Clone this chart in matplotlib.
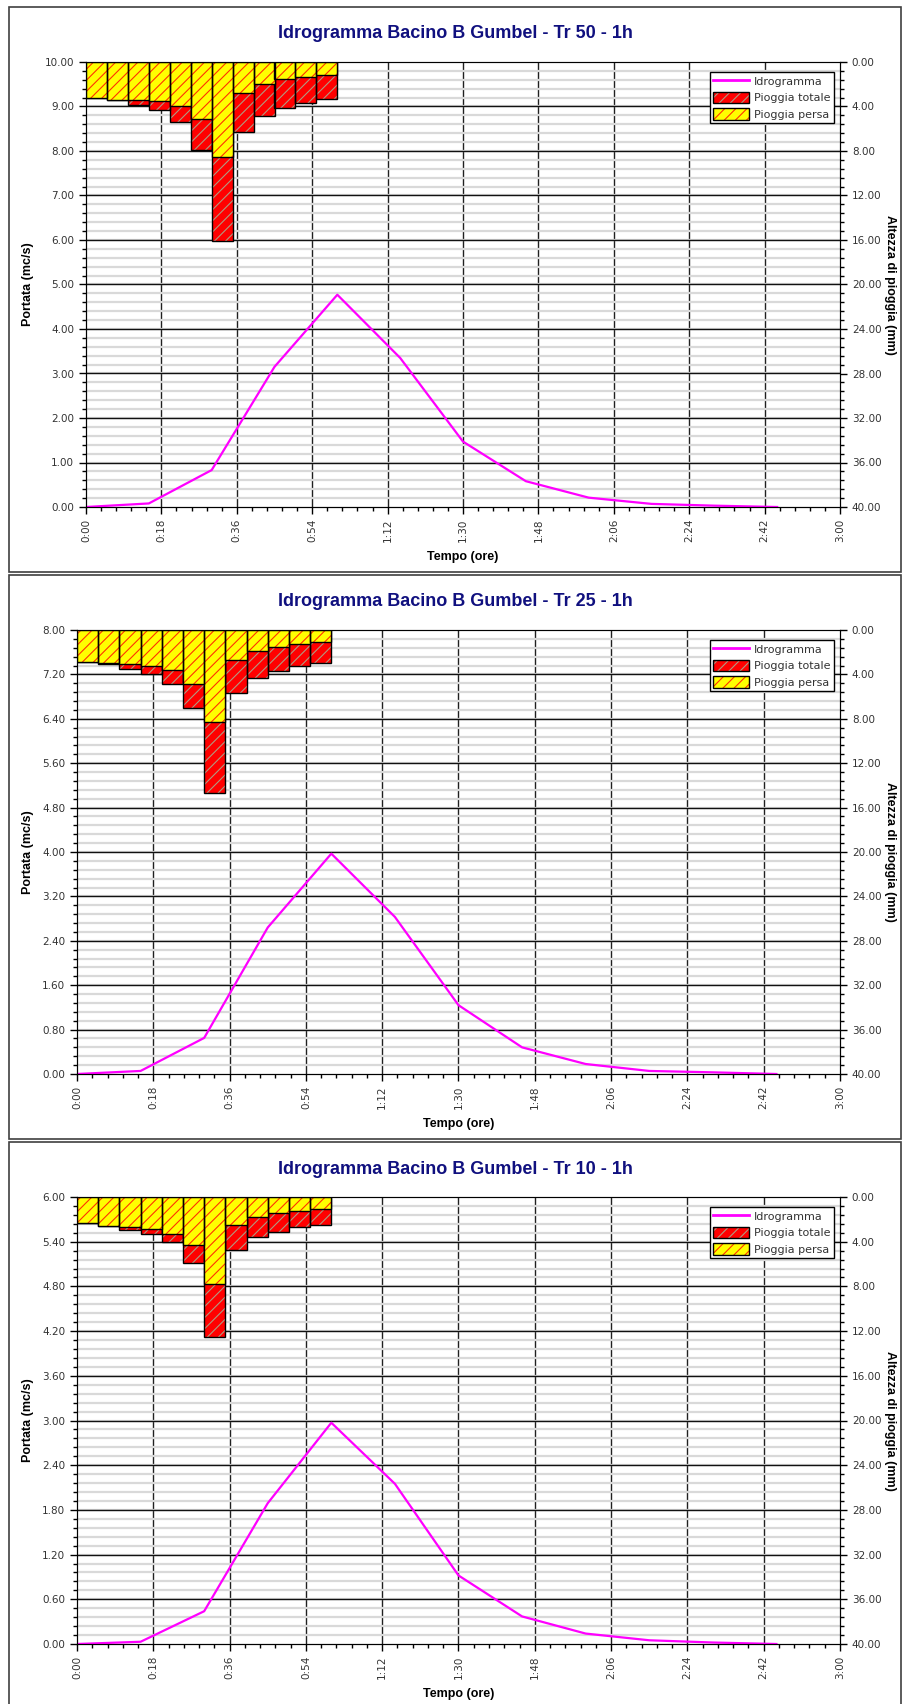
import numpy as np
import matplotlib.pyplot as plt
from matplotlib.lines import Line2D
from matplotlib.patches import Patch, Rectangle
from matplotlib.legend_handler import HandlerTuple
from matplotlib.ticker import MultipleLocator, FuncFormatter

plt.rcParams['font.family'] = ['DejaVu Sans']
plt.rcParams['hatch.linewidth'] = 0.8

W, H = 903, 1704

# time (minutes)
t_rain = [0, 5, 10, 15, 20, 25, 30, 35, 40, 45, 50, 55]
t_q = [0, 15, 30, 45, 60, 75, 90, 105, 120, 135, 150, 165]

# Tr 50
q50 = [0, 0.08, 0.83, 3.15, 4.77, 3.35, 1.47, 0.58, 0.21, 0.07, 0.03, 0.0]
tot50 = [3.25, 3.40, 3.88, 4.33, 5.38, 7.90, 16.09, 6.26, 4.81, 4.09, 3.67, 3.37]
per50 = [3.25, 3.40, 3.46, 3.55, 3.96, 5.10, 8.57, 2.77, 1.95, 1.53, 1.35, 1.14]

# Tr 25
q25 = [0, 0.055, 0.65, 2.64, 3.97, 2.83, 1.24, 0.48, 0.18, 0.055, 0.03, 0.0]
tot25 = [2.85, 3.05, 3.48, 3.97, 4.82, 7.03, 14.67, 5.67, 4.30, 3.67, 3.27, 2.94]
per25 = [2.85, 3.00, 3.06, 3.27, 3.64, 4.85, 8.30, 2.67, 1.91, 1.55, 1.30, 1.09]

# Tr 10
q10 = [0, 0.03, 0.44, 1.89, 2.97, 2.15, 0.92, 0.37, 0.14, 0.05, 0.02, 0.0]
tot10 = [2.36, 2.60, 2.93, 3.31, 4.00, 5.94, 12.54, 4.75, 3.58, 3.10, 2.69, 2.48]
per10 = [2.36, 2.57, 2.72, 2.87, 3.28, 4.30, 7.79, 2.48, 1.76, 1.43, 1.25, 1.07]

titles = ["Idrogramma Bacino B Gumbel - Tr 50 - 1h",
          "Idrogramma Bacino B Gumbel - Tr 25 - 1h",
          "Idrogramma Bacino B Gumbel - Tr 10 - 1h"]

RED, YEL = '#ff0000', '#ffff00'
HATCH_RED, HATCH_YEL = '#b09a80', '#ff3300'
TXT = '#333333'

fig = plt.figure(figsize=(W / 100, H / 100), dpi=100)


def hhmm(m, pos):
    m = int(round(m))
    return "%d:%02d" % (m // 60, m % 60)


def panel(frame, box, title, q, tot, per, qmax, qstep):
    fx0, fy0, fx1, fy1 = frame
    fig.add_artist(Rectangle((fx0 / W, 1 - fy1 / H), (fx1 - fx0) / W, (fy1 - fy0) / H,
                             transform=fig.transFigure, fill=False, ec='#404040', lw=1.2))
    fig.text((fx0 + fx1) / 2 / W, 1 - (fy0 + 27) / H, title, ha='center', va='center',
             fontsize=13, fontweight='bold', color='#10107f', family='Liberation Sans')

    l, t, r, b = box
    ax = fig.add_axes([l / W, 1 - b / H, (r - l) / W, (b - t) / H])
    ax.set_xlim(0, 180)
    ax.set_ylim(0, qmax)

    # grid: vertical dark lines, then light minor, then black major
    for xv in np.arange(18, 180, 18):
        ax.axvline(xv, color='#202020', lw=1.0, zorder=0.5)
    for yv in np.arange(qstep / 5, qmax, qstep / 5):
        ax.axhline(yv, color='#d9d9d9', lw=1.6, zorder=0.6)
    for yv in np.arange(qstep, qmax - 1e-6, qstep):
        ax.axhline(yv, color='#111111', lw=1.0, zorder=0.7)

    ax.plot(t_q, q, color='#ff00ff', lw=1.6, zorder=3, label='Idrogramma')

    ax.xaxis.set_major_locator(MultipleLocator(18))
    ax.xaxis.set_minor_locator(MultipleLocator(3.6))
    ax.xaxis.set_major_formatter(FuncFormatter(hhmm))
    ax.yaxis.set_major_locator(MultipleLocator(qstep))
    ax.yaxis.set_minor_locator(MultipleLocator(qstep / 5))
    ax.yaxis.set_major_formatter(FuncFormatter(lambda v, p: "%.2f" % v))
    ax.tick_params(which='major', direction='out', length=5, width=1, labelsize=7.5, labelcolor=TXT)
    ax.tick_params(which='minor', direction='out', length=3, width=1)
    ax.tick_params(axis='x', labelrotation=90)
    for s in ax.spines.values():
        s.set_color('black')
    ax.spines['top'].set_color('#505050')

    ax.set_xlabel("Tempo (ore)", fontsize=9, fontweight='bold', family='Liberation Sans')
    ax.xaxis.set_label_coords(0.5, -44 / (b - t))
    ax.set_ylabel("Portata (mc/s)", fontsize=9, fontweight='bold', family='Liberation Sans')
    ax.yaxis.set_label_coords((34 - l) / (r - l), 0.5)

    ax2 = ax.twinx()
    ax2.set_ylim(40, 0)
    ax2.bar(t_rain, tot, width=5, align='edge', color=RED, edgecolor=HATCH_RED, hatch='///', lw=0)
    ax2.bar(t_rain, tot, width=5, align='edge', fill=False, edgecolor='black', lw=1)
    ax2.bar(t_rain, per, width=5, align='edge', color=YEL, edgecolor=HATCH_YEL, hatch='///', lw=0)
    ax2.bar(t_rain, per, width=5, align='edge', fill=False, edgecolor='black', lw=1)
    ax2.yaxis.set_major_locator(MultipleLocator(4))
    ax2.yaxis.set_minor_locator(MultipleLocator(0.8))
    ax2.yaxis.set_major_formatter(FuncFormatter(lambda v, p: "%.2f" % v))
    ax2.tick_params(which='major', direction='out', length=5, width=1, labelsize=7.5, labelcolor=TXT)
    ax2.tick_params(which='minor', direction='out', length=3, width=1)
    ax2.set_ylabel("Altezza di pioggia (mm)", fontsize=9, fontweight='bold',
                   family='Liberation Sans', rotation=270)
    ax2.yaxis.set_label_coords((896 - l) / (r - l), 0.5)

    handles = [Line2D([], [], color='#ff00ff', lw=2),
               (Patch(fc=RED, ec=HATCH_RED, hatch='///', lw=0), Patch(fill=False, ec='black', lw=1)),
               (Patch(fc=YEL, ec=HATCH_YEL, hatch='///', lw=0), Patch(fill=False, ec='black', lw=1))]
    leg = ax2.legend(handles, ["Idrogramma", "Pioggia totale", "Pioggia persa"],
                     handler_map={tuple: HandlerTuple(ndivide=1)},
                     loc='upper right', bbox_to_anchor=((834 - l) / (r - l), 1 - 10 / (b - t)),
                     fontsize=8, fancybox=False, framealpha=1, edgecolor='black',
                     borderpad=0.3, borderaxespad=0, handlelength=3.2, handleheight=1.2,
                     labelspacing=0.45, handletextpad=0.5)
    leg.get_frame().set_linewidth(1)
    for tx in leg.get_texts():
        tx.set_color(TXT)


panel((9, 7, 901, 572), (86, 62, 840, 507), titles[0], q50, tot50, per50, 10, 1.0)
panel((9, 575, 901, 1139), (77, 630, 840, 1074), titles[1], q25, tot25, per25, 8, 0.8)
panel((9, 1142, 901, 1712), (77, 1197, 840, 1644), titles[2], q10, tot10, per10, 6, 0.6)

fig.savefig('out.png', dpi=100)
